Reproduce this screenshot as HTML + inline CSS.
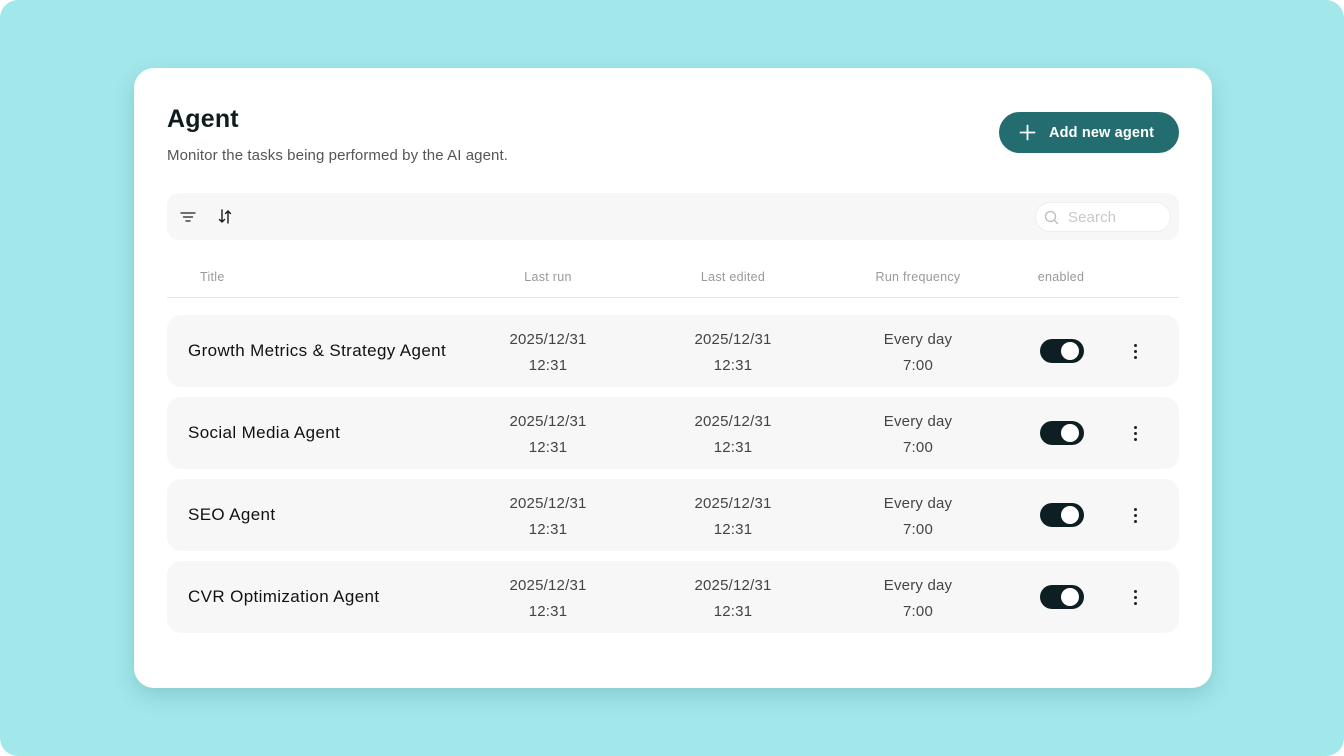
<!DOCTYPE html>
<html><head><meta charset="utf-8"><style>
*{margin:0;padding:0;box-sizing:border-box}
html,body{width:1344px;height:756px;background:#fff;overflow:hidden}
body{font-family:"Liberation Sans",sans-serif;position:relative}
.bg{position:absolute;left:0;top:0;width:1344px;height:756px;background:#a2e7ea;border-radius:18px}
.card{position:absolute;left:134px;top:68px;width:1078px;height:620px;background:#fff;border-radius:20px;box-shadow:0 8px 20px rgba(40,110,115,0.22)}
.abs{position:absolute}
.title{left:167px;top:105px;font-size:25px;font-weight:bold;color:#0f1c1e;letter-spacing:0.2px}
.sub{left:167px;top:147px;font-size:15px;line-height:18px;color:#555;letter-spacing:0.1px}
.btn{left:999px;top:112px;width:180px;height:41px;border-radius:21px;background:#236d70;color:#fff;font-size:14.5px;font-weight:bold}
.btn .t{position:absolute;left:50px;top:13px;letter-spacing:0.15px;line-height:17px}
.tool{left:167px;top:193px;width:1012px;height:47px;background:#f7f7f7;border-radius:12px}
.search{left:1035px;top:202px;width:136px;height:30px;background:#fff;border:1px solid #eeeeee;border-radius:15px}
.search .t{position:absolute;left:32px;top:6px;font-size:15px;line-height:18px;color:#c8c8c8;letter-spacing:0.1px}
.hd{top:270px;font-size:12.5px;line-height:15px;color:#999;letter-spacing:0.28px}
.c{text-align:center;width:160px}
.line{left:167px;top:297px;width:1012px;height:1px;background:#e4e4e4}
.row{left:167px;width:1012px;height:72px;background:#f7f7f7;border-radius:14px}
.row .nm{position:absolute;left:21px;top:26px;font-size:17px;line-height:20px;color:#111;letter-spacing:0.37px}
.row .d{position:absolute;width:160px;text-align:center;font-size:15px;color:#444;line-height:26px;top:12px;letter-spacing:0.2px}
.tg{position:absolute;left:873px;top:24px;width:44px;height:24px;border-radius:12px;background:#0d1f22}
.tg:after{content:"";position:absolute;left:21px;top:3px;width:18px;height:18px;border-radius:50%;background:#fff}
.kb{position:absolute;left:967px;top:29px;width:3px}
.kb i{display:block;width:3px;height:3px;border-radius:50%;background:#222;margin-bottom:3px}
</style></head><body>
<div class="bg"></div>
<div class="card"></div>
<div class="abs title">Agent</div>
<div class="abs sub">Monitor the tasks being performed by the AI agent.</div>
<div class="abs btn">
<svg class="abs" style="left:20px;top:12px" width="17" height="17" viewBox="0 0 17 17"><path d="M8.5 1.5v14M1.5 8.5h14" stroke="#fff" stroke-width="1.8" stroke-linecap="round"/></svg>
<span class="t">Add new agent</span></div>
<div class="abs tool"></div>
<svg class="abs" style="left:180px;top:211px" width="16" height="12" viewBox="0 0 16 12"><path d="M1 2h14M3.5 6h9M6 10h4" stroke="#444" stroke-width="1.4" stroke-linecap="round"/></svg>
<svg class="abs" style="left:218px;top:209px" width="14" height="15" viewBox="0 0 14 15"><path d="M4 1v12M1.5 10.5L4 13l2.5-2.5M10 14V2M7.5 4.5L10 2l2.5 2.5" stroke="#1a1a1a" stroke-width="1.4" fill="none" stroke-linecap="round" stroke-linejoin="round"/></svg>
<div class="abs search">
<svg class="abs" style="left:8px;top:7px" width="15" height="15" viewBox="0 0 15 15"><circle cx="6.5" cy="6.5" r="5" stroke="#bbb" stroke-width="1.3" fill="none"/><path d="M10.2 10.2L13.5 13.5" stroke="#bbb" stroke-width="1.3" stroke-linecap="round"/></svg>
<span class="t">Search</span></div>
<div class="abs hd" style="left:200px">Title</div>
<div class="abs hd c" style="left:468px">Last run</div>
<div class="abs hd c" style="left:653px">Last edited</div>
<div class="abs hd c" style="left:838px">Run frequency</div>
<div class="abs hd c" style="left:981px">enabled</div>
<div class="abs line"></div>

<div class="abs row" style="top:315px"><div class="nm">Growth Metrics &amp; Strategy Agent</div>
<div class="d" style="left:301px">2025/12/31<br>12:31</div><div class="d" style="left:486px">2025/12/31<br>12:31</div><div class="d" style="left:671px">Every day<br>7:00</div>
<div class="tg"></div><div class="kb"><i></i><i></i><i></i></div></div>

<div class="abs row" style="top:397px"><div class="nm">Social Media Agent</div>
<div class="d" style="left:301px">2025/12/31<br>12:31</div><div class="d" style="left:486px">2025/12/31<br>12:31</div><div class="d" style="left:671px">Every day<br>7:00</div>
<div class="tg"></div><div class="kb"><i></i><i></i><i></i></div></div>

<div class="abs row" style="top:479px"><div class="nm">SEO Agent</div>
<div class="d" style="left:301px">2025/12/31<br>12:31</div><div class="d" style="left:486px">2025/12/31<br>12:31</div><div class="d" style="left:671px">Every day<br>7:00</div>
<div class="tg"></div><div class="kb"><i></i><i></i><i></i></div></div>

<div class="abs row" style="top:561px"><div class="nm">CVR Optimization Agent</div>
<div class="d" style="left:301px">2025/12/31<br>12:31</div><div class="d" style="left:486px">2025/12/31<br>12:31</div><div class="d" style="left:671px">Every day<br>7:00</div>
<div class="tg"></div><div class="kb"><i></i><i></i><i></i></div></div>
</body></html>
